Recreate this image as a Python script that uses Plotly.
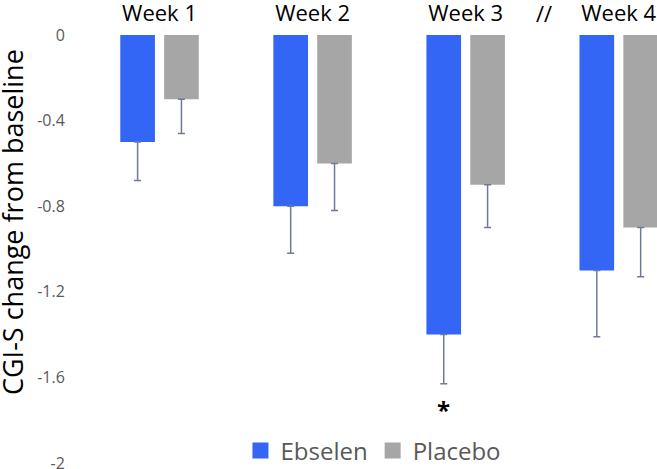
import plotly.graph_objects as go

weeks = ["Week 1", "Week 2", "Week 3", "Week 4"]
ebselen = [-0.50, -0.80, -1.40, -1.10]
ebselen_err = [0.18, 0.22, 0.23, 0.31]
placebo = [-0.30, -0.60, -0.70, -0.90]
placebo_err = [0.16, 0.22, 0.20, 0.23]
y_ticks = [0, -0.4, -0.8, -1.2, -1.6, -2]

FONT = "Open Sans"
GREY_TXT = "#595959"
ERR_COL = "#6F7B96"
BLUE = "#3366F5"
GREY = "#A6A6A6"

fig = go.Figure()
fig.add_trace(go.Bar(
    name="Ebselen", x=weeks, y=ebselen, showlegend=False,
    marker=dict(color=BLUE, line=dict(width=0)),
    error_y=dict(type="data", symmetric=False, array=[0]*4, arrayminus=ebselen_err,
                 color=ERR_COL, thickness=1.5, width=3.5),
))
fig.add_trace(go.Bar(
    name="Placebo", x=weeks, y=placebo, showlegend=False,
    marker=dict(color=GREY, line=dict(width=0)),
    error_y=dict(type="data", symmetric=False, array=[0]*4, arrayminus=placebo_err,
                 color=ERR_COL, thickness=1.5, width=3.5),
))
# legend entries with larger square swatches
for name, col in [("Ebselen", BLUE), ("Placebo", GREY)]:
    fig.add_trace(go.Scatter(name=name, x=[None], y=[None], mode="markers",
                             marker=dict(symbol="square", size=16, color=col)))

fig.add_annotation(x="Week 3", y=-1.75, xref="x", yref="y", text="<b>*</b>",
                   showarrow=False, xshift=-22, font=dict(family=FONT, size=24, color="black"))
fig.add_annotation(x=2.51, y=1, xref="x", yref="paper", yshift=22, yanchor="middle",
                   text="//", showarrow=False, font=dict(family=FONT, size=22, color="black"))
fig.add_annotation(x=(12 - 83) / 574, y=0.563, xref="paper", yref="paper", xanchor="center",
                   yanchor="middle", textangle=-90, text="CGI-S change from baseline",
                   showarrow=False, font=dict(family=FONT, size=27, color="black"))

fig.update_layout(
    width=657, height=469,
    margin=dict(l=83, r=0, t=35, b=6, autoexpand=False),
    paper_bgcolor="white", plot_bgcolor="white",
    barmode="group", bargap=0.427, bargroupgap=0.21,
    font=dict(family=FONT, color=GREY_TXT),
    showlegend=True,
    legend=dict(orientation="h", x=0.506, y=0.028, xanchor="center", yanchor="middle",
                font=dict(family=FONT, size=24, color=GREY_TXT), traceorder="normal",
                itemwidth=30, bgcolor="rgba(0,0,0,0)"),
    xaxis=dict(side="top", range=[-0.5, 3.25], showgrid=False, showline=False, zeroline=False,
               automargin=False, ticks="outside", ticklen=4, tickcolor="rgba(0,0,0,0)",
               tickfont=dict(family=FONT, size=22, color="black")),
    yaxis=dict(range=[-2, 0], tickvals=y_ticks, ticktext=[f"{v:g}" for v in y_ticks],
               showgrid=False, showline=False, zeroline=False, automargin=False,
               ticks="outside", ticklen=14, tickcolor="rgba(0,0,0,0)",
               ticklabeloverflow="allow",
               tickfont=dict(family=FONT, size=16, color=GREY_TXT)),
)

fig.write_html("out.html", config={"displayModeBar": False},
               post_script="document.body.style.margin='0';")
